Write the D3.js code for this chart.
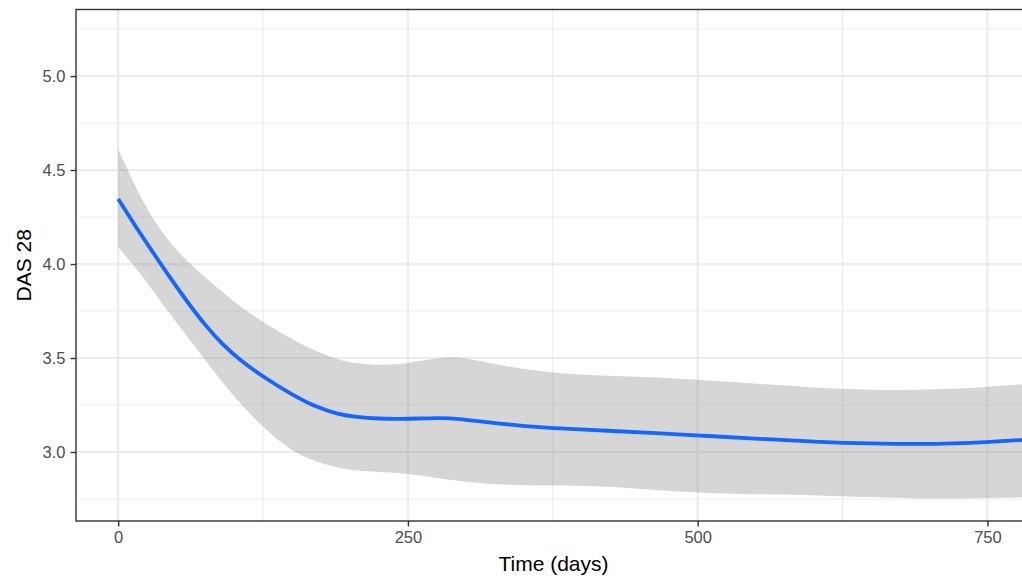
<!DOCTYPE html>
<html>
<head>
<meta charset="utf-8">
<script src="https://cdn.jsdelivr.net/npm/d3@7"></script>
<style>
  body { margin: 0; background: #fff; }
  svg { display: block; font-family: "Liberation Sans", Arial, sans-serif; }
</style>
</head>
<body>
<svg id="chart" width="1022" height="579"></svg>
<script>
// loess fit of DAS 28 over time, with its confidence band
const days  = [0, 15, 30, 45, 60, 75, 90, 105, 125, 150, 171, 190, 205, 225, 243, 260, 277, 294, 315, 340, 370, 398, 427, 456, 510, 560, 605, 650, 691, 720, 750, 790];
const fit   = [4.346, 4.20, 4.062, 3.925, 3.795, 3.675, 3.572, 3.49, 3.40, 3.305, 3.238, 3.20, 3.186, 3.177, 3.176, 3.178, 3.181, 3.178, 3.16, 3.145, 3.128, 3.12, 3.112, 3.103, 3.085, 3.068, 3.053, 3.045, 3.042, 3.045, 3.053, 3.068];
const upper = [4.61, 4.41, 4.235, 4.11, 4.01, 3.93, 3.85, 3.775, 3.69, 3.60, 3.535, 3.49, 3.47, 3.463, 3.465, 3.485, 3.50, 3.508, 3.48, 3.45, 3.425, 3.41, 3.405, 3.40, 3.38, 3.36, 3.34, 3.33, 3.33, 3.335, 3.346, 3.365];
const lower = [4.09, 3.98, 3.86, 3.73, 3.61, 3.49, 3.37, 3.26, 3.13, 3.00, 2.947, 2.915, 2.90, 2.894, 2.888, 2.875, 2.86, 2.845, 2.832, 2.824, 2.822, 2.822, 2.815, 2.80, 2.78, 2.775, 2.77, 2.76, 2.752, 2.752, 2.755, 2.76];

const xTicks = [0, 250, 500, 750];
const xMinor = [125, 375, 625];
const yTicks = [3.0, 3.5, 4.0, 4.5, 5.0];
const yMinor = [2.75, 3.25, 3.75, 4.25, 4.75, 5.25];

const margin = { top: 9.5, right: -9, bottom: 58, left: 76 };
const W = 1022, H = 579;
const svg = d3.select("#chart");

const x = d3.scaleLinear().domain([-36.4, 787.6]).range([margin.left, W - margin.right]);
const y = d3.scaleLinear().domain([2.633, 5.354]).range([H - margin.bottom, margin.top]);

const pts = days.map((d, i) => ({ d: d, f: fit[i], hi: upper[i], lo: lower[i] }));

svg.append("clipPath").attr("id", "panel")
  .append("rect")
  .attr("x", x.range()[0]).attr("y", y.range()[1])
  .attr("width", x.range()[1] - x.range()[0])
  .attr("height", y.range()[0] - y.range()[1]);

// grid
const grid = svg.append("g");
grid.selectAll(".ymin").data(yMinor).join("line")
  .attr("x1", x.range()[0]).attr("x2", x.range()[1])
  .attr("y1", d => y(d)).attr("y2", d => y(d))
  .attr("stroke", "#ebebeb").attr("stroke-width", 1.1);
grid.selectAll(".xmin").data(xMinor).join("line")
  .attr("y1", y.range()[0]).attr("y2", y.range()[1])
  .attr("x1", d => x(d)).attr("x2", d => x(d))
  .attr("stroke", "#ebebeb").attr("stroke-width", 1.1);
grid.selectAll(".ymaj").data(yTicks).join("line")
  .attr("x1", x.range()[0]).attr("x2", x.range()[1])
  .attr("y1", d => y(d)).attr("y2", d => y(d))
  .attr("stroke", "#ebebeb").attr("stroke-width", 2.2);
grid.selectAll(".xmaj").data(xTicks).join("line")
  .attr("y1", y.range()[0]).attr("y2", y.range()[1])
  .attr("x1", d => x(d)).attr("x2", d => x(d))
  .attr("stroke", "#ebebeb").attr("stroke-width", 2.2);

// band + line
const g = svg.append("g").attr("clip-path", "url(#panel)");
g.append("path").datum(pts)
  .attr("d", d3.area().curve(d3.curveBasis)
    .x(p => x(p.d)).y0(p => y(p.lo)).y1(p => y(p.hi)))
  .attr("fill", "#999999").attr("fill-opacity", 0.4);
g.append("path").datum(pts)
  .attr("d", d3.line().curve(d3.curveBasis).x(p => x(p.d)).y(p => y(p.f)))
  .attr("fill", "none").attr("stroke", "#1466ff").attr("stroke-width", 3.8)
  .attr("stroke-linejoin", "round");

// panel border
svg.append("rect")
  .attr("x", x.range()[0]).attr("y", y.range()[1])
  .attr("width", x.range()[1] - x.range()[0])
  .attr("height", y.range()[0] - y.range()[1])
  .attr("fill", "none").attr("stroke", "#333333").attr("stroke-width", 1.4);

// axes
const xAxis = svg.append("g").attr("transform", `translate(0,${y.range()[0]})`)
  .call(d3.axisBottom(x).tickValues(xTicks).tickSize(5.5).tickPadding(5).tickFormat(d3.format("d")));
const yAxis = svg.append("g").attr("transform", `translate(${x.range()[0]},0)`)
  .call(d3.axisLeft(y).tickValues(yTicks).tickSize(5.5).tickPadding(5).tickFormat(d3.format(".1f")));
[xAxis, yAxis].forEach(a => {
  a.select(".domain").remove();
  a.selectAll(".tick line").attr("stroke", "#333333").attr("stroke-width", 1.4);
  a.selectAll(".tick text").attr("fill", "#4d4d4d").style("font-size", "16.5px")
    .style("font-family", "'Liberation Sans', Arial, sans-serif");
});

// titles
svg.append("text")
  .attr("x", (x.range()[0] + x.range()[1]) / 2).attr("y", 571)
  .attr("text-anchor", "middle").style("font-size", "21px").attr("fill", "#000")
  .text("Time (days)");
svg.append("text")
  .attr("transform", `translate(31,${(y.range()[0] + y.range()[1]) / 2}) rotate(-90)`)
  .attr("text-anchor", "middle").style("font-size", "21px").attr("fill", "#000")
  .text("DAS 28");
</script>
</body>
</html>
